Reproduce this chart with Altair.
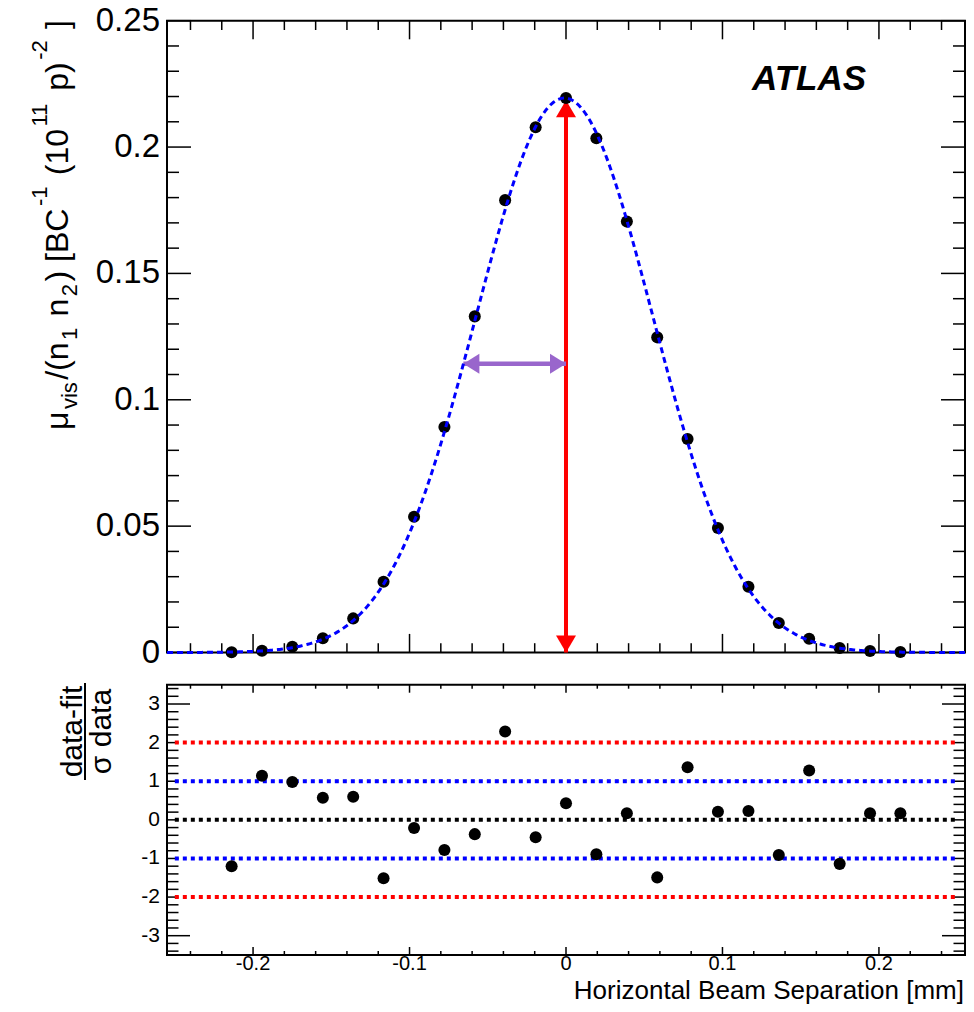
import altair as alt
import pandas as pd

# ---------------- data ----------------
sep_mm = [-0.2137, -0.1943, -0.1749, -0.1554, -0.1360, -0.1166, -0.0971, -0.0777,
          -0.0583, -0.0389, -0.0194, 0.0, 0.0194, 0.0389, 0.0583, 0.0777, 0.0971,
          0.1166, 0.1360, 0.1554, 0.1749, 0.1943, 0.2137]
mu_vis = [0.0001, 0.0007, 0.0023, 0.0056, 0.0135, 0.0280, 0.0537, 0.0892, 0.1330,
          0.1790, 0.2078, 0.2194, 0.2035, 0.1705, 0.1247, 0.0845, 0.0493, 0.0260,
          0.0117, 0.0054, 0.0018, 0.0006, 0.0002]
residual = [-1.20, 1.14, 0.98, 0.57, 0.60, -1.51, -0.21, -0.78, -0.37, 2.29, -0.45,
            0.43, -0.89, 0.17, -1.49, 1.36, 0.21, 0.23, -0.91, 1.28, -1.14, 0.17, 0.17]

# fit (single Gaussian) parameters
fit_peak = 0.2194
fit_mean = -0.0010
fit_sigma = 0.0565
fit_range = [-0.255, 0.255]

# arrows
peak_arrow_x = [0.0]
peak_arrow_y = [0.0, 0.2185]
width_arrow_x = [-0.0656, 0.0]
width_arrow_y = [0.1143]

# reference lines of the residual panel
ref_line_x = [-0.25, 0.25]
ref_red = [-2, 2]
ref_blue = [-1, 1]
ref_black = [0]

# axes
x_domain = [-0.255, 0.255]
x_major = [-0.2, -0.1, 0.0, 0.1, 0.2]
x_labels = ["-0.2", "-0.1", "0", "0.1", "0.2"]
x_minor = [-0.24, -0.22, -0.18, -0.16, -0.14, -0.12, -0.08, -0.06, -0.04, -0.02,
           0.02, 0.04, 0.06, 0.08, 0.12, 0.14, 0.16, 0.18, 0.22, 0.24]
top_domain = [0, 0.25]
top_major = [0, 0.05, 0.1, 0.15, 0.2, 0.25]
top_labels = ["0", "0.05", "0.1", "0.15", "0.2", "0.25"]
top_minor = [0.01, 0.02, 0.03, 0.04, 0.06, 0.07, 0.08, 0.09, 0.11, 0.12, 0.13, 0.14,
             0.16, 0.17, 0.18, 0.19, 0.21, 0.22, 0.23, 0.24]
bot_domain = [-3.5, 3.5]
bot_long = [-3, 3]
bot_labelvals = [-3, -2, -1, 0, 1, 2, 3]
bot_labels = ["-3", "-2", "-1", "0", "1", "2", "3"]
bot_short = [-3.4, -3.2, -2.8, -2.6, -2.4, -2.2, -2.0, -1.8, -1.6, -1.4, -1.2, -1.0,
             -0.8, -0.6, -0.4, -0.2, 0.0, 0.2, 0.4, 0.6, 0.8, 1.0, 1.2, 1.4, 1.6, 1.8,
             2.0, 2.2, 2.4, 2.6, 2.8, 3.2, 3.4]

# ---------------- layout ----------------
FONT = "Liberation Sans"
W = 798
H_TOP = 631.8
GAP = 32.2
H = 934.3
BOT_TOP = H_TOP + GAP

xs = alt.Scale(domain=x_domain, nice=False, zero=False)
ys_top = alt.Scale(domain=top_domain, range=[H_TOP, 0], nice=False, zero=False)
ys_bot = alt.Scale(domain=bot_domain, range=[H, BOT_TOP], nice=False, zero=False)

ONE = alt.Data(values=[{"t": ""}])


def X(f):
    return alt.X(f, type="quantitative", scale=xs, axis=None)


def Yt(f):
    return alt.Y(f, type="quantitative", scale=ys_top, axis=None)


def Yb(f):
    return alt.Y(f, type="quantitative", scale=ys_bot, axis=None)


def text(t, x, y, size, angle=0, align="left", baseline="alphabetic",
         style="normal", weight="normal"):
    return alt.Chart(alt.Data(values=[{"t": t}])).mark_text(
        align=align, baseline=baseline, angle=angle, fontSize=size, font=FONT,
        fontStyle=style, fontWeight=weight, color="black"
    ).encode(x=alt.value(x), y=alt.value(y), text="t:N")


def frame(y0, y1):
    return alt.Chart(ONE).mark_rect(filled=False, stroke="black", strokeWidth=2).encode(
        x=alt.value(0), x2=alt.value(W), y=alt.value(y0), y2=alt.value(y1))


def xticks(vals, y0, y1):
    return alt.Chart(pd.DataFrame({"v": vals})).mark_rule(color="black", strokeWidth=1.5).encode(
        x=X("v"), y=alt.value(y0), y2=alt.value(y1))


def yticks(vals, scale_fn, x0, x1):
    return alt.Chart(pd.DataFrame({"v": vals})).mark_rule(color="black", strokeWidth=1.5).encode(
        y=scale_fn("v"), x=alt.value(x0), x2=alt.value(x1))


layers = []

# ---------- top panel ----------
layers.append(frame(0, H_TOP))
layers += [
    yticks(top_major, Yt, 0, 24), yticks(top_minor, Yt, 0, 12),
    yticks(top_major, Yt, W, W - 24), yticks(top_minor, Yt, W, W - 12),
    xticks(x_major, 0, 18.6), xticks(x_minor, 0, 9.3),
    xticks(x_major, H_TOP, H_TOP - 18.6), xticks(x_minor, H_TOP, H_TOP - 9.3),
]

# arrows
red = "#ff0000"
purple = "#9966cc"
layers.append(
    alt.Chart(pd.DataFrame({"x": peak_arrow_x, "y0": [peak_arrow_y[0]], "y1": [peak_arrow_y[1]]}))
    .mark_rule(color=red, strokeWidth=4)
    .encode(x=X("x"), y=Yt("y0"), y2="y1:Q")
)
layers.append(
    alt.Chart(pd.DataFrame({"x": peak_arrow_x, "y": [peak_arrow_y[0]]}))
    .mark_point(shape="M0,0L-1,-1.7L1,-1.7Z", size=400, filled=True, color=red, opacity=1)
    .encode(x=X("x"), y=Yt("y"))
)
layers.append(
    alt.Chart(pd.DataFrame({"x": peak_arrow_x, "y": [peak_arrow_y[1]]}))
    .mark_point(shape="M0,0L-1,1.7L1,1.7Z", size=400, filled=True, color=red, opacity=1)
    .encode(x=X("x"), y=Yt("y"))
)
layers.append(
    alt.Chart(pd.DataFrame({"x0": [width_arrow_x[0]], "x1": [width_arrow_x[1]], "y": width_arrow_y}))
    .mark_rule(color=purple, strokeWidth=4.5)
    .encode(x=X("x0"), x2="x1:Q", y=Yt("y"))
)
layers.append(
    alt.Chart(pd.DataFrame({"x": [width_arrow_x[0]], "y": width_arrow_y}))
    .mark_point(shape="M0,0L1.6,-1L1.6,1Z", size=400, filled=True, color=purple, opacity=1)
    .encode(x=X("x"), y=Yt("y"))
)
layers.append(
    alt.Chart(pd.DataFrame({"x": [width_arrow_x[1]], "y": width_arrow_y}))
    .mark_point(shape="M0,0L-1.6,-1L-1.6,1Z", size=400, filled=True, color=purple, opacity=1)
    .encode(x=X("x"), y=Yt("y"))
)

# data points
layers.append(
    alt.Chart(pd.DataFrame({"x": sep_mm, "y": mu_vis}))
    .mark_circle(size=145, color="black", opacity=1)
    .encode(x=X("x"), y=Yt("y"))
)

# fit curve
layers.append(
    alt.Chart(alt.sequence(fit_range[0], fit_range[1] + 0.0005, 0.001, as_="x"))
    .transform_calculate(
        y=f"{fit_peak}*exp(-pow(datum.x-({fit_mean}),2)/(2*{fit_sigma}*{fit_sigma}))")
    .mark_line(color="#0000ff", strokeWidth=3, strokeDash=[6, 4])
    .encode(x=X("x"), y=Yt("y"))
)

# top labels
layers.append(
    alt.Chart(pd.DataFrame({"v": top_major, "t": top_labels}))
    .mark_text(align="right", baseline="middle", fontSize=33, font=FONT, color="black")
    .encode(y=Yt("v"), x=alt.value(-7), text="t:N")
)
layers.append(text("ATLAS", 585, 69.3, 35, style="italic", weight="bold"))

# rich y title of the top panel, composed piece by piece
ADV = {'μ': 0.576, 'v': 0.5, 'i': 0.222, 's': 0.5, '/': 0.278, '(': 0.333, 'n': 0.556,
       ' ': 0.278, ')': 0.333, '[': 0.278, 'B': 0.667, 'C': 0.722, '1': 0.556,
       '0': 0.556, 'p': 0.556, ']': 0.278, '-': 0.333, '2': 0.556}
pieces = [("μ", "main"), ("vis", "sub"), ("/(n", "main"), ("1", "sub"), (" n", "main"),
          ("2", "sub"), (") [BC", "main"), ("-1", "sup"), (" (10", "main"), ("11", "sup"),
          (" p)", "main"), ("-2", "sup"), (" ]", "main")]
F_MAIN, F_SCRIPT = 32, 22
BASE_X = -99
SHIFT = {"main": 0, "sub": 9, "sup": -21}
start_y, end_y = 409.3, -0.7
s = 0.0
placed = []
for txt, role in pieces:
    size = F_MAIN if role == "main" else F_SCRIPT
    lead = len(txt) - len(txt.lstrip(" "))
    s += lead * ADV[" "] * size
    t = txt.strip()
    placed.append((t, role, s, size))
    s += sum(ADV[c] for c in t) * size
gap = max(0.0, ((start_y - end_y) - s) / (len(pieces) - 1))
for i, (t, role, pos, size) in enumerate(placed):
    layers.append(text(t, BASE_X + SHIFT[role], start_y - pos - i * gap, size, angle=270))

# ---------- bottom panel ----------
layers.append(frame(BOT_TOP, H))
layers += [
    yticks(bot_long, Yb, 0, 23), yticks(bot_short, Yb, 0, 11.5),
    yticks(bot_long, Yb, W, W - 23), yticks(bot_short, Yb, W, W - 11.5),
    xticks(x_major, BOT_TOP, BOT_TOP + 8), xticks(x_minor, BOT_TOP, BOT_TOP + 4),
    xticks(x_major, H, H - 8), xticks(x_minor, H, H - 4),
]


def ref_lines(levels, color):
    return alt.Chart(pd.DataFrame({"x0": [ref_line_x[0]] * len(levels),
                                   "x1": [ref_line_x[1]] * len(levels), "y": levels})) \
        .mark_rule(color=color, strokeWidth=4, strokeDash=[4, 4]) \
        .encode(x=X("x0"), x2="x1:Q", y=Yb("y"))


layers += [ref_lines(ref_red, "#ff0000"), ref_lines(ref_blue, "#0000ff"),
           ref_lines(ref_black, "#000000")]

layers.append(
    alt.Chart(pd.DataFrame({"x": sep_mm, "y": residual}))
    .mark_circle(size=145, color="black", opacity=1)
    .encode(x=X("x"), y=Yb("y"))
)

layers.append(
    alt.Chart(pd.DataFrame({"v": bot_labelvals, "t": bot_labels}))
    .mark_text(align="right", baseline="middle", fontSize=21, font=FONT, color="black")
    .encode(y=Yb("v"), x=alt.value(-7), text="t:N")
)
layers.append(
    alt.Chart(pd.DataFrame({"v": x_major, "t": x_labels}))
    .mark_text(align="center", baseline="middle", fontSize=20, font=FONT, color="black")
    .encode(x=X("v"), y=alt.value(943.3), text="t:N")
)
layers.append(text("Horizontal Beam Separation [mm]", W - 1, 978.3, 26, align="right"))

# fraction title of the residual panel
FR_Y = 710.8
layers.append(text("data-fit", -85, FR_Y, 30, angle=270, align="center"))
layers.append(text("σ data", -56, FR_Y, 30, angle=270, align="center"))
layers.append(
    alt.Chart(ONE).mark_rule(color="black", strokeWidth=2).encode(
        x=alt.value(-82), y=alt.value(662.3), y2=alt.value(759.3))
)

chart = alt.layer(*layers).resolve_scale(y="independent").properties(
    width=W, height=H,
    padding={"left": 159, "top": 12.7, "right": 1, "bottom": 49},
    autosize=alt.AutoSizeParams(type="none"),
    background="white",
).configure_view(stroke=None)

chart.save("out.html", embed_options={"renderer": "svg", "actions": False})
